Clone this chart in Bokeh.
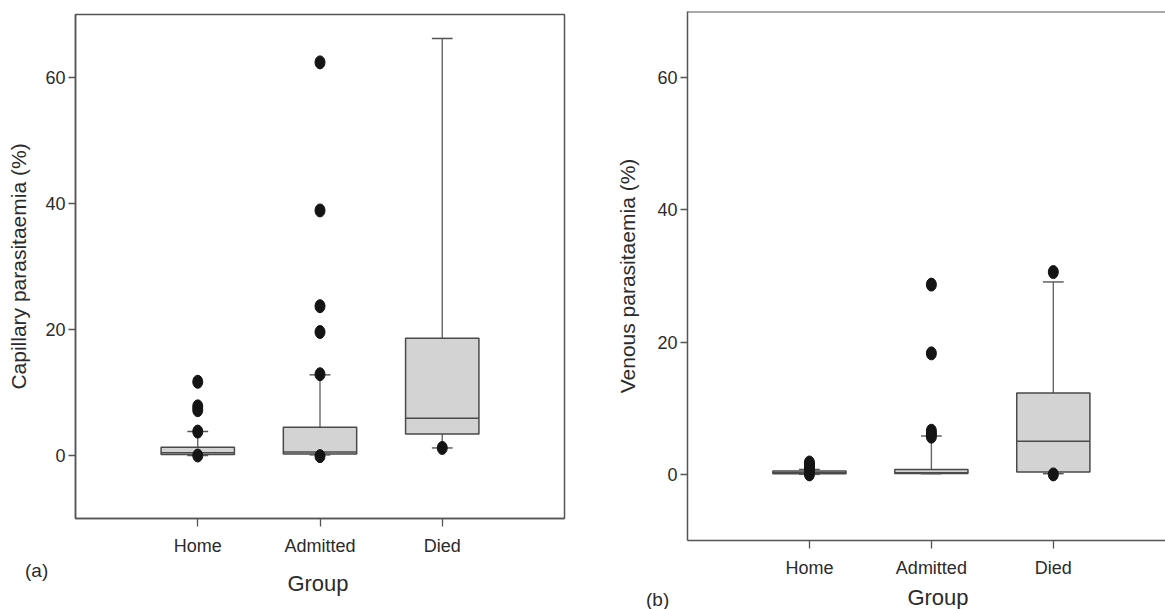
from bokeh.plotting import figure
from bokeh.layouts import row, column
from bokeh.models import Range1d, FixedTicker, Span, ColumnDataSource, Div
from bokeh.embed import file_html
from bokeh.resources import INLINE

# ---------------- data ----------------
groups = ["Home", "Admitted", "Died"]
yticks = [0, 20, 40, 60]

# (a) Capillary parasitaemia (%)
cap_q1 = [0.15, 0.25, 3.4]
cap_med = [0.45, 0.55, 5.9]
cap_q3 = [1.3, 4.5, 18.6]
cap_lo = [0.0, 0.1, 1.2]
cap_hi = [3.8, 12.8, 66.2]
cap_out = [[11.7, 7.8, 7.2, 3.8, 0.0],
           [62.4, 38.9, 23.7, 19.6, 12.9, -0.1],
           [1.2]]

# (b) Venous parasitaemia (%)
ven_q1 = [0.1, 0.15, 0.35]
ven_med = [0.25, 0.25, 5.0]
ven_q3 = [0.5, 0.75, 12.3]
ven_lo = [0.0, 0.1, 0.1]
ven_hi = [0.75, 5.8, 29.1]
ven_out = [[0.0, 0.4, 0.8, 1.2, 1.5, 1.8],
           [28.7, 18.3, 6.6, 6.1, 5.7],
           [30.6, 0.0]]

FONT = "Liberation Sans"
TXT = "#2b2b2b"
LINE = "#555555"
BOXW = 0.6
CAPW = 0.085


def panel(q1, med, q3, lo, hi, out, ylabel, width, height, x_end,
          bl, br, bt, bb, full_outline):
    xs = list(range(1, len(groups) + 1))
    src = ColumnDataSource(dict(
        x=xs, q1=q1, med=med, q3=q3, lo=lo, hi=hi,
        xl=[x - BOXW / 2 for x in xs], xr=[x + BOXW / 2 for x in xs],
        cl=[x - CAPW for x in xs], cr=[x + CAPW for x in xs],
    ))
    ox, oy = [], []
    for i, vals in enumerate(out):
        for v in vals:
            ox.append(xs[i])
            oy.append(v)

    p = figure(width=width, height=height, output_backend="svg",
               toolbar_location=None, x_range=Range1d(0, x_end),
               y_range=Range1d(-10, 70), min_border_left=bl,
               min_border_right=br, min_border_top=bt, min_border_bottom=bb)
    p.grid.visible = False
    p.background_fill_color = "white"
    p.border_fill_color = "white"
    if full_outline:
        p.outline_line_color = LINE
        p.outline_line_width = 1.5
    else:
        p.outline_line_color = None
        p.add_layout(Span(location=70, dimension="width", line_color=LINE,
                          line_width=2))

    # whiskers
    p.segment(x0="x", y0="q3", x1="x", y1="hi", source=src, line_color="#666666", line_width=1.4)
    p.segment(x0="x", y0="q1", x1="x", y1="lo", source=src, line_color="#666666", line_width=1.4)
    # boxes
    p.quad(left="xl", right="xr", bottom="q1", top="q3", source=src,
           fill_color="#d3d3d3", line_color="#4a4a4a", line_width=1.5)
    # medians
    p.segment(x0="xl", y0="med", x1="xr", y1="med", source=src, line_color="#4a4a4a", line_width=1.5)
    # caps
    p.segment(x0="cl", y0="hi", x1="cr", y1="hi", source=src, line_color="#555555", line_width=1.4)
    p.segment(x0="cl", y0="lo", x1="cr", y1="lo", source=src, line_color="#555555", line_width=1.4)
    # outliers
    p.ellipse(x=ox, y=oy, width=10, height=13, width_units="screen",
              height_units="screen", fill_color="#141414", line_color="#141414")

    # axes
    ya = p.yaxis[0]
    ya.ticker = FixedTicker(ticks=yticks)
    ya.axis_label = ylabel
    ya.axis_label_text_font = FONT
    ya.axis_label_text_font_size = "21px"
    ya.axis_label_text_font_style = "normal"
    ya.axis_label_text_color = TXT
    ya.axis_label_standoff = 12
    xa = p.xaxis[0]
    xa.ticker = FixedTicker(ticks=xs)
    xa.major_label_overrides = {x: g for x, g in zip(xs, groups)}
    for ax in (xa, ya):
        ax.major_label_text_font = FONT
        ax.major_label_text_font_size = "18px"
        ax.major_label_text_color = TXT
        ax.axis_line_color = LINE
        ax.axis_line_width = 1.5
        ax.major_tick_line_color = LINE
        ax.major_tick_line_width = 1.3
        ax.major_tick_in = 0
        ax.minor_tick_line_color = None
    ya.major_tick_out = 7
    ya.major_label_standoff = 3
    xa.major_tick_out = 8
    xa.major_label_standoff = 9
    return p


def span(text, left, top, size, width=None):
    w = f"width:{width}px;text-align:center;" if width else ""
    return (f"<span style=\"position:absolute;left:{left}px;top:{top}px;{w}"
            f"font-family:'{FONT}';font-size:{size}px;line-height:1;"
            f"color:{TXT};white-space:nowrap;\">{text}</span>")


p1 = panel(cap_q1, cap_med, cap_q3, cap_lo, cap_hi, cap_out,
           "Capillary parasitaemia (%)", 580, 558, 4, 75, 16, 14, 38, True)
p2 = panel(ven_q1, ven_med, ven_q3, ven_lo, ven_hi, ven_out,
           "Venous parasitaemia (%)", 585, 580, 3.92, 107, 0, 11, 39, False)
p2.yaxis[0].axis_label_standoff = 15

d1 = Div(text="<div style=\"position:relative;width:580px;height:51px;\">"
         + span("(a)", 25, 3, 19) + span("Group", 268, 15, 22, 100) + "</div>",
         width=580, height=51, styles={"margin": "0", "padding": "0"})
d2 = Div(text="<div style=\"position:relative;width:585px;height:29px;\">"
         + span("(b)", 66, 10, 19) + span("Group", 308, 7, 22, 100) + "</div>",
         width=585, height=29, styles={"margin": "0", "padding": "0"})

layout = row(column(p1, d1), column(p2, d2))
open("out.html", "w").write(file_html(layout, INLINE))
